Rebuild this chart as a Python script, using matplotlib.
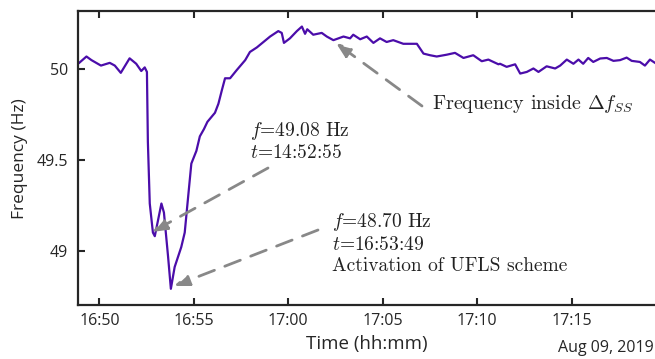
import pandas as pd
import matplotlib
matplotlib.use('Agg')
from matplotlib import pyplot as plt
import matplotlib.dates as mdates

plt.rcParams['font.family'] = ['Open Sans', 'DejaVu Sans']
plt.rcParams['mathtext.fontset'] = 'cm'

day = '2019-08-09 '
times = ['16:48:52', '16:48:56', '16:49:19', '16:49:35', '16:50:05', '16:50:33', '16:50:49',
         '16:51:08', '16:51:36', '16:51:57', '16:52:13', '16:52:24', '16:52:31', '16:52:34',
         '16:52:40', '16:52:50', '16:52:56', '16:53:17', '16:53:25', '16:53:38', '16:53:47',
         '16:53:59', '16:54:20', '16:54:31', '16:54:42', '16:54:52', '16:55:08', '16:55:19',
         '16:55:32', '16:55:43', '16:56:07', '16:56:18', '16:56:29', '16:56:39', '16:56:55',
         '16:57:16', '16:57:43', '16:57:58', '16:58:20', '16:58:41', '16:59:02', '16:59:28',
         '16:59:39', '16:59:46', '17:00:05', '17:00:27', '17:00:43', '17:00:53', '17:01:00',
         '17:01:19', '17:01:46', '17:02:02', '17:02:23', '17:02:55', '17:03:16', '17:03:26',
         '17:03:48', '17:04:09', '17:04:30', '17:04:51', '17:05:12', '17:05:33', '17:06:05',
         '17:06:48', '17:07:09', '17:07:30', '17:07:51', '17:08:23', '17:08:49', '17:09:16',
         '17:09:47', '17:10:14', '17:10:35', '17:10:51', '17:11:07', '17:11:12', '17:11:33',
         '17:12:00', '17:12:16', '17:12:37', '17:12:58', '17:13:14', '17:13:40', '17:14:07',
         '17:14:23', '17:14:44', '17:15:05', '17:15:21', '17:15:36', '17:15:52', '17:16:08',
         '17:16:30', '17:16:51', '17:17:12', '17:17:33', '17:17:54', '17:18:10', '17:18:36',
         '17:18:52', '17:19:08', '17:19:24']
freq = [50.03, 50.035, 50.07, 50.05, 50.02, 50.035, 50.02,
        49.98, 50.06, 50.03, 49.99, 50.01, 49.985, 49.6,
        49.26, 49.10, 49.08, 49.26, 49.21, 48.97, 48.79,
        48.91, 49.02, 49.10, 49.30, 49.48, 49.55, 49.63,
        49.67, 49.71, 49.76, 49.81, 49.885, 49.95, 49.95,
        49.995, 50.05, 50.095, 50.12, 50.15, 50.18, 50.21,
        50.20, 50.145, 50.17, 50.21, 50.235, 50.195, 50.22,
        50.19, 50.20, 50.18, 50.16, 50.18, 50.17, 50.19,
        50.165, 50.18, 50.145, 50.17, 50.15, 50.16, 50.14,
        50.14, 50.086, 50.077, 50.07, 50.08, 50.09, 50.062,
        50.077, 50.044, 50.053, 50.04, 50.027, 50.03, 50.013,
        50.027, 49.976, 49.985, 50.004, 49.985, 50.016, 50.004,
        50.02, 50.053, 50.03, 50.053, 50.03, 50.062, 50.04,
        50.059, 50.062, 50.046, 50.05, 50.064, 50.046, 50.04,
        50.02, 50.053, 50.035]

t = pd.to_datetime([day + s for s in times])

fig = plt.figure(figsize=(6.55, 3.59), dpi=100)
ax = fig.add_axes([0.119, 0.150, 0.881, 0.819])
ax.plot(t, freq, color='#4B0DAA', linewidth=1.6)

ax.set_xlim(pd.Timestamp(day + '16:48:52'), pd.Timestamp(day + '17:19:24'))
ax.set_ylim(48.70, 50.32)
ax.set_yticks([49, 49.5, 50])
ax.set_yticklabels(['49', '49.5', '50'])
ax.xaxis.set_major_locator(mdates.MinuteLocator(byminute=range(0, 60, 5)))
ax.xaxis.set_major_formatter(mdates.DateFormatter('%H:%M'))
ax.tick_params(direction='in', length=5, width=1.5, labelsize=11.5, colors='#262626',
               top=True, pad=6)
ax.tick_params(axis='y', pad=7)
for s in ['left', 'bottom', 'top']:
    ax.spines[s].set_linewidth(1.6)
    ax.spines[s].set_color('#262626')
ax.spines['right'].set_visible(False)

ax.set_ylabel('Frequency (Hz)', fontsize=12.5, color='#262626', labelpad=6)
ax.set_xlabel('Time (hh:mm)', fontsize=13.5, color='#262626', labelpad=4)
fig.text(0.998, 0.008, 'Aug 09, 2019', ha='right', va='bottom', fontsize=11.5, color='#262626')

arrow = dict(arrowstyle='-|>,head_length=0.9,head_width=0.35', color='#888888',
             linestyle=(0, (6, 4)), linewidth=2, shrinkA=0, shrinkB=0)
note = dict(fontsize=14, va='center', ha='left', color='#222222', family='cmr10')


def px(x, y):
    # image pixel -> figure fraction
    return (x / 655, 1 - y / 359)


ax.annotate('', xy=px(336, 43), xycoords='figure fraction',
            xytext=px(422, 106), textcoords='figure fraction', arrowprops=arrow)
fig.text(*px(432, 104), r'Frequency inside $\Delta f_{SS}$', fontsize=14.5,
         **{k: v for k, v in note.items() if k != 'fontsize'})

ax.annotate('', xy=px(152, 232), xycoords='figure fraction',
            xytext=px(268, 168), textcoords='figure fraction', arrowprops=arrow)
fig.text(*px(250, 141), '$f$=49.08 Hz\n$t$=14:52:55', linespacing=1.15, **note)

ax.annotate('', xy=px(174, 286), xycoords='figure fraction',
            xytext=px(318, 230), textcoords='figure fraction', arrowprops=arrow)
fig.text(*px(332, 243), '$f$=48.70 Hz\n$t$=16:53:49\nActivation of UFLS scheme',
         linespacing=1.25, **note)

fig.savefig('out.png', dpi=100)
